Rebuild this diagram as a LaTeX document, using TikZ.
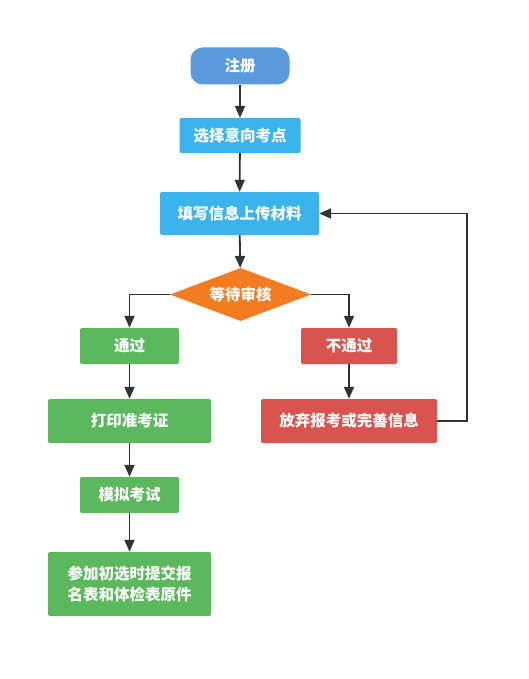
\documentclass[tikz,border=0pt]{standalone}
\usepackage{fontspec}
\setmainfont{Noto Sans CJK SC}
\usetikzlibrary{shapes.geometric,arrows.meta}
\definecolor{regblue}{RGB}{90,155,222}
\definecolor{stepblue}{RGB}{59,179,236}
\definecolor{waitorange}{RGB}{244,124,32}
\definecolor{okgreen}{RGB}{92,184,92}
\definecolor{failred}{RGB}{217,83,79}
\definecolor{linegray}{RGB}{51,51,51}
\tikzset{
  box/.style={rectangle, rounded corners=2pt, text=white, font=\fontsize{15.5}{21}\selectfont\bfseries, align=center, inner sep=0pt},
  flow/.style={draw=linegray, line width=1.8pt, -{Triangle[length=12pt,width=10pt]}}
}
\begin{document}
\begin{tikzpicture}[x=1pt,y=-1pt]
   \useasboundingbox[fill=white] (0,0) rectangle (529,679);
   \node[box, fill=regblue, rounded corners=12pt, minimum width=99pt, minimum height=37pt] (reg) at (240,66) {注册};
   \node[box, fill=stepblue, minimum width=121pt, minimum height=35pt] (pick) at (240,135.5) {选择意向考点};
   \node[box, fill=stepblue, minimum width=159pt, minimum height=43pt] (fill) at (239.5,213.5) {填写信息上传材料};
   \node[diamond, aspect=2.66, fill=waitorange, text=white, font=\fontsize{15.5}{21}\selectfont\bfseries, inner sep=0pt, minimum width=141pt, minimum height=53pt] (wait) at (240.5,294.5) {等待审核};
   \node[box, fill=okgreen, minimum width=99pt, minimum height=36pt] (pass) at (129.5,346) {通过};
   \node[box, fill=failred, minimum width=96pt, minimum height=36pt] (fail) at (349,346) {不通过};
   \node[box, fill=okgreen, minimum width=163pt, minimum height=44pt] (print) at (129.5,421) {打印准考证};
   \node[box, fill=failred, minimum width=176pt, minimum height=44pt] (redo) at (349,421) {放弃报考或完善信息};
   \node[box, fill=okgreen, minimum width=99pt, minimum height=36pt] (mock) at (129.5,495) {模拟考试};
   \node[box, fill=okgreen, minimum width=163pt, minimum height=64pt] (join) at (129.5,584) {参加初选时提交报\\名表和体检表原件};
   \draw[flow] (reg) -- (pick);
   \draw[flow] (pick) -- (fill);
   \draw[flow] (fill) -- (wait);
   \draw[flow] (wait.west) -| (pass.north);
   \draw[flow] (wait.east) -| (fail.north);
   \draw[flow] (pass) -- (print);
   \draw[flow] (fail) -- (redo);
   \draw[flow] (print) -- (mock);
   \draw[flow] (mock) -- (join);
   \coordinate (back) at (467,421);
   \draw[flow] (redo.east) -- (back) |- (fill.east);
\end{tikzpicture}
\end{document}
